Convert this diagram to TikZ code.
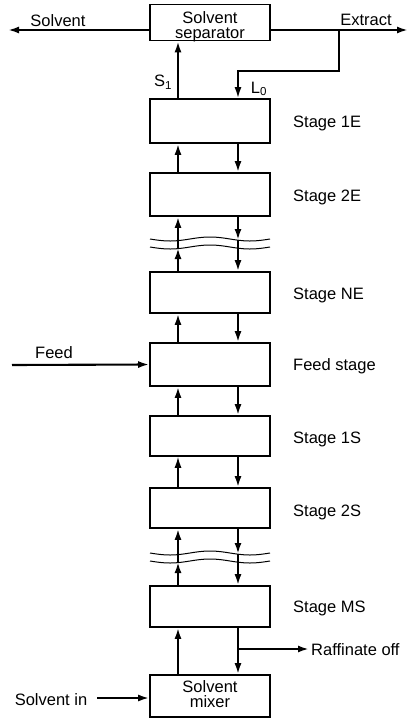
\documentclass[tikz,border=0pt]{standalone}
\usepackage{fontspec}
\setmainfont{Liberation Sans}
\usetikzlibrary{arrows.meta}
\begin{document}
\begin{tikzpicture}[x=1pt,y=-1pt,
  box/.style={draw,line width=1.7pt,minimum width=120pt,minimum height=42pt,inner sep=0pt},
  lbl/.style={font=\fontsize{16.5}{15}\selectfont,inner sep=0pt},
  flow/.style={line width=2.1pt,-{Latex[length=11pt,width=7pt]}},
  wave/.style={line width=1pt}]
\useasboundingbox (0,0) rectangle (414,718);
% column x positions
\coordinate (xl) at (178,0);
\coordinate (xr) at (238,0);
% boxes
\node[box,minimum height=36pt] (sep) at (210,22.5) {};
\node[lbl,align=center] (septext) at (210,27) {Solvent\\separator};
\node[box,minimum height=44pt] (s1e) at (210,121) {};
\node[box,minimum height=43pt] (s2e) at (210,194.5) {};
\node[box,minimum height=41pt] (sne) at (210,292.5) {};
\node[box,minimum height=43pt] (sfd) at (210,364.5) {};
\node[box,minimum height=40pt] (s1s) at (210,436) {};
\node[box,minimum height=40pt] (s2s) at (210,508) {};
\node[box,minimum height=41pt] (sms) at (210,606.5) {};
\node[box,minimum height=42pt] (mix) at (210,696) {};
\node[lbl,align=center] (mixtext) at (210,694) {Solvent\\mixer};
% stage labels
\node[lbl,anchor=base west] (t1e) at (293,127) {Stage 1E};
\node[lbl,anchor=base west] (t2e) at (293,201.5) {Stage 2E};
\node[lbl,anchor=base west] (tne) at (293,299.5) {Stage NE};
\node[lbl,anchor=base west] (tfd) at (293,370.5) {Feed stage};
\node[lbl,anchor=base west] (t1s) at (293,443) {Stage 1S};
\node[lbl,anchor=base west] (t2s) at (293,516) {Stage 2S};
\node[lbl,anchor=base west] (tms) at (293,612) {Stage MS};
% wavy break lines
\foreach \yy in {239,247,553,561}{
  \draw[wave] plot[domain=150:270,samples=60,smooth] (\x,{\yy+2*sin(4.5*(\x-150))});
}
\coordinate (wu1) at (0,240);
\coordinate (wl1) at (0,248);
\coordinate (wu2) at (0,554);
\coordinate (wl2) at (0,562);
% top streams
\coordinate (sepL) at (150,30);
\coordinate (sepR) at (270,30);
\coordinate (solEnd) at (8,30);
\coordinate (extEnd) at (408,30);
\coordinate (br) at (339,30);
\coordinate (bl) at (339,71);
\draw[flow] (sepL) -- (solEnd);
\draw[flow] (sepR) -- (extEnd);
\draw[flow,line width=1.8pt] (br) -- (bl) -- (bl -| xr) -- (s1e.north -| xr);
\draw[flow] (s1e.north -| xl) -- (sep.south -| xl);
\node[lbl] (tsol) at (58,21) {Solvent};
\node[lbl] (text) at (366,20) {Extract};
\node[lbl] (ts1) at (163,82) {S\textsubscript{1}};
\node[lbl] (tl0) at (259,89) {L\textsubscript{0}};
% 1E - 2E
\draw[flow] (s2e.north -| xl) -- (s1e.south -| xl);
\draw[flow] (s1e.south -| xr) -- (s2e.north -| xr);
% 2E - NE (broken)
\draw[flow] (sne.north -| xl) -- (wl1 -| xl);
\draw[flow] (wl1 -| xl) -- (s2e.south -| xl);
\draw[flow] (s2e.south -| xr) -- (wu1 -| xr);
\draw[flow] (wu1 -| xr) -- (sne.north -| xr);
% NE - Feed
\draw[flow] (sfd.north -| xl) -- (sne.south -| xl);
\draw[flow] (sne.south -| xr) -- (sfd.north -| xr);
% Feed - 1S
\draw[flow] (s1s.north -| xl) -- (sfd.south -| xl);
\draw[flow] (sfd.south -| xr) -- (s1s.north -| xr);
% 1S - 2S
\draw[flow,line width=1.4pt] (s2s.north -| xl) -- (s1s.south -| xl);
\draw[flow] (s1s.south -| xr) -- (s2s.north -| xr);
% 2S - MS (broken)
\draw[flow] (sms.north -| xl) -- (wl2 -| xl);
\draw[flow] (wl2 -| xl) -- (s2s.south -| xl);
\draw[flow] (s2s.south -| xr) -- (wu2 -| xr);
\draw[flow] (wu2 -| xr) -- (sms.north -| xr);
% MS - mixer
\draw[flow] (mix.north -| xl) -- (sms.south -| xl);
\draw[flow] (sms.south -| xr) -- (mix.north -| xr);
\coordinate (raf) at (238,649);
\coordinate (rafEnd) at (309,649);
\draw[flow] (raf) -- (rafEnd);
\node[lbl,anchor=west] (traf) at (311,650) {Raffinate off};
% feed
\coordinate (feedStart) at (12,365);
\draw[flow] (feedStart) -- (sfd.west);
\node[lbl] (tfeed) at (54,353) {Feed};
% solvent in
\coordinate (sinStart) at (97,698);
\draw[flow] (sinStart) -- (mix.west |- sinStart);
\node[lbl] (tsin) at (51,700) {Solvent in};
\end{tikzpicture}
\end{document}
